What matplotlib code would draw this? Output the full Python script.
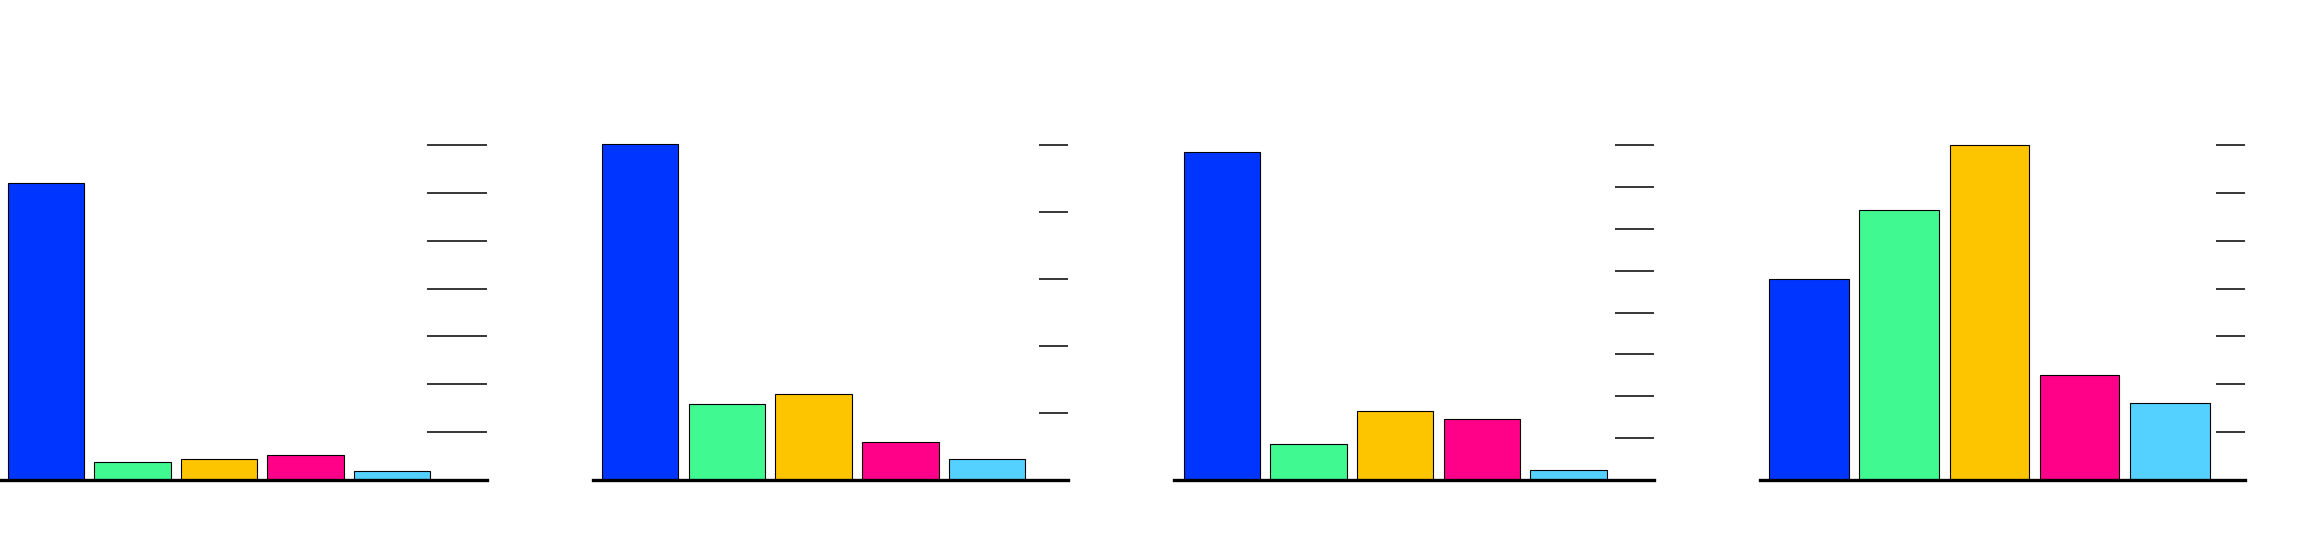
import matplotlib
matplotlib.use("Agg")
import matplotlib.pyplot as plt

# data (values in units of the tick spacing)
categories = ["A", "B", "C", "D", "E"]
panel1 = [6.21, 0.37, 0.44, 0.53, 0.18]
panel2 = [5.02, 1.14, 1.29, 0.56, 0.31]
panel3 = [7.83, 0.86, 1.64, 1.45, 0.24]
panel4 = [4.21, 5.65, 7.00, 2.19, 1.60]
panels = [panel1, panel2, panel3, panel4]
tick_counts = [7, 5, 8, 7]
colors = ["#0035FF", "#41F991", "#FDC400", "#FF0088", "#54D1FF"]

W, H = 2320, 544
fig = plt.figure(figsize=(W / 100, H / 100), dpi=100)

# pixel layout: (left, right, first bar centre, spacing, tick length px)
layout = [
    (0, 487, 46, 86.5, 60),
    (593, 1068, 640, 86.8, 29),
    (1174, 1654, 1221.7, 86.7, 38.7),
    (1760, 2245, 1808.8, 90.25, 28.7),
]
top_px, bot_px = 145, 480

for vals, nt, (l, r, c0, sp, tl) in zip(panels, tick_counts, layout):
    ax = fig.add_axes([l / W, 1 - bot_px / H, (r - l) / W, (bot_px - top_px) / H])
    x = list(range(len(categories)))
    ax.bar(x, vals, width=0.88, color=colors, edgecolor="black", linewidth=0.8,
           clip_on=False, zorder=2)
    ax.set_xlim((l - c0) / sp, (r - c0) / sp)
    ax.set_ylim(0, nt)
    ax.set_yticks(range(1, nt + 1))
    ax.set_yticklabels([])
    ax.set_xticks([])
    ax.yaxis.tick_right()
    ax.tick_params(axis="y", direction="in", length=tl * 0.72, width=1.1,
                   right=True, left=False, labelright=False)
    for s in ["top", "left", "right"]:
        ax.spines[s].set_visible(False)
    ax.spines["bottom"].set_linewidth(2.4)
    ax.spines["bottom"].set_zorder(3)
    ax.patch.set_alpha(0)

fig.savefig("out.png", dpi=100, facecolor="white")
